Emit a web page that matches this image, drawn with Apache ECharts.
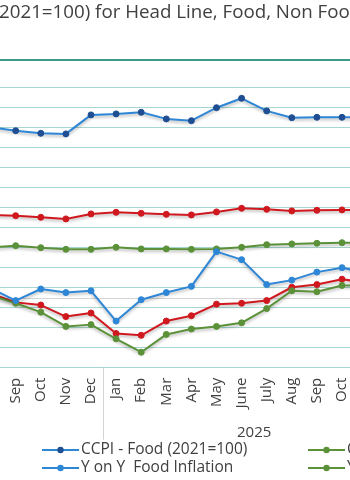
<!DOCTYPE html>
<html>
<head>
<meta charset="utf-8">
<script src="https://cdn.jsdelivr.net/npm/echarts@6/dist/echarts.min.js"></script>
<style>html,body{margin:0;padding:0;background:#fff;}#c{width:350px;height:480px;}</style>
</head>
<body>
<div id="c"></div>
<script>
// ---- data ----
const months = ['Jan','Feb','Mar','Apr','May','June','July','Aug','Sep','Oct','Nov','Dec',
                'Jan','Feb','Mar','Apr','May','June','July','Aug','Sep','Oct','Nov','Dec'];
const years = ['2024','2025'];
const titleText = 'Monthly CCPI (2021=100) for Head Line, Food, Non Food and Y-o-Y Inflation';
const titleHidden = 'Monthly CCPI (';
const titleVisible = '2021=100) for Head Line, Food, Non Foo';

const foodIndex     = [null,null,null,null,null,null,null,240.3,238.5,237.2,236.9,246.4,
                       246.9,247.7,244.4,243.5,250.0,254.7,248.4,245.0,245.2,245.2,245.2,null];
const headlineIndex = [null,null,null,null,null,null,null,196.4,196.0,195.2,194.4,196.9,
                       197.7,197.2,196.7,196.4,197.9,199.7,199.2,198.4,198.7,198.9,198.9,null];
const nonFoodIndex  = [null,null,null,null,null,null,null,180.1,181.0,180.0,179.2,179.2,
                       180.2,179.4,179.4,179.2,179.4,180.2,181.5,181.9,182.2,182.5,182.5,null];
const foodYoY       = [null,null,null,null,null,null,null,1.1,-0.3,1.0,0.6,0.8,
                       -2.6,-0.2,0.6,1.3,5.2,4.3,1.5,2.0,2.9,3.4,2.8,null];
const headlineYoY   = [null,null,null,null,null,null,null,0.5,-0.5,-0.8,-2.1,-1.7,
                       -4.0,-4.2,-2.6,-2.0,-0.7,-0.6,-0.3,1.2,1.5,2.1,1.7,null];
const nonFoodYoY    = [null,null,null,null,null,null,null,0.3,-0.6,-1.6,-3.2,-3.0,
                       -4.6,-6.1,-4.1,-3.5,-3.2,-2.8,-1.2,0.8,0.7,1.4,1.4,null];

const FONT = '"Open Sans", Lato, sans-serif';
const BLUE = '#2e86d6', BLUE_DARK = '#1f4f92', RED = '#d0181f', GREEN = '#5b9138';

function mk(name, data, color, markColor, yIdx) {
  return {
    name: name, type: 'line', data: data, yAxisIndex: yIdx,
    symbol: 'circle', symbolSize: 6, connectNulls: false,
    lineStyle: {color: color, width: 2, shadowColor: 'rgba(0,0,0,0.28)', shadowBlur: 3, shadowOffsetY: 2},
    itemStyle: {color: markColor, borderColor: markColor},
    emphasis: {disabled: true}
  };
}

// title sized so that the visible fragment spans the crop width
const ctx = document.createElement('canvas').getContext('2d');
ctx.font = '20px ' + FONT;
const titleSize = 20 * 351 / ctx.measureText(titleVisible).width;
const TITLE_FONT = titleSize.toFixed(2) + 'px ' + FONT;
ctx.font = TITLE_FONT;
const hiddenW = ctx.measureText(titleHidden).width;

const legendText = {color: '#404040', fontSize: 15.5, lineHeight: 16, fontFamily: FONT, padding: [0,0,0,-3]};

const chart = echarts.init(document.getElementById('c'), null, {renderer: 'canvas'});
chart.setOption({
  animation: false,
  backgroundColor: '#fff',
  textStyle: {fontFamily: FONT},
  grid: {left: -197.65, right: -54.75, top: 87.7, bottom: 112.3, outerBoundsMode: 'none', containLabel: false},
  xAxis: [{
    type: 'category', data: months, boundaryGap: true,
    axisLine: {lineStyle: {color: '#d4d4d4', width: 1}},
    axisTick: {show: false},
    axisLabel: {rotate: 90, margin: 10, color: '#404040', fontSize: 15, fontFamily: FONT, interval: 0}
  }, {
    type: 'category', data: years, boundaryGap: true, position: 'bottom',
    axisLine: {show: false},
    axisTick: {show: true, length: 72, lineStyle: {color: '#d4d4d4'}},
    axisLabel: {margin: 58, color: '#404040', fontSize: 15, fontFamily: FONT}
  }],
  yAxis: [{
    type: 'value', min: 120, max: 260, interval: 10,
    axisLine: {show: false}, axisTick: {show: false}, axisLabel: {show: false},
    splitLine: {lineStyle: {color: '#a6d6cf', width: 1}}
  }, {
    type: 'value', min: -7.84, max: 23.62,
    axisLine: {show: false}, axisTick: {show: false}, axisLabel: {show: false},
    splitLine: {show: false}
  }],
  legend: [{
    orient: 'vertical', left: 36, top: 437, height: 60, itemWidth: 37, itemHeight: 8, itemGap: 2,
    textStyle: legendText,
    data: ['CCPI - Food (2021=100)', 'Y on Y  Food Inflation']
  }, {
    orient: 'vertical', left: 302, top: 437, height: 60, itemWidth: 37, itemHeight: 8, itemGap: 2,
    textStyle: legendText,
    data: ['CCPI - Non Food (2021=100)', 'Y on Y  Non Food Inflation']
  }],
  graphic: [{
    type: 'line', shape: {x1: 0, y1: 60, x2: 350, y2: 60},
    style: {stroke: '#3a9a8c', lineWidth: 2}, silent: true
  }, {
    type: 'text', x: -hiddenW - 1, y: 13,
    style: {text: titleText, font: TITLE_FONT, fill: '#404040', textVerticalAlign: 'middle'},
    silent: true
  }],
  series: [
    mk('CCPI - Headline (2021=100)', headlineIndex, RED, RED, 0),
    mk('CCPI - Food (2021=100)', foodIndex, BLUE, BLUE_DARK, 0),
    mk('CCPI - Non Food (2021=100)', nonFoodIndex, GREEN, GREEN, 0),
    mk('Y on Y  Headline Inflation', headlineYoY, RED, RED, 1),
    mk('Y on Y  Non Food Inflation', nonFoodYoY, GREEN, GREEN, 1),
    mk('Y on Y  Food Inflation', foodYoY, BLUE, BLUE, 1)
  ]
});
</script>
</body>
</html>
